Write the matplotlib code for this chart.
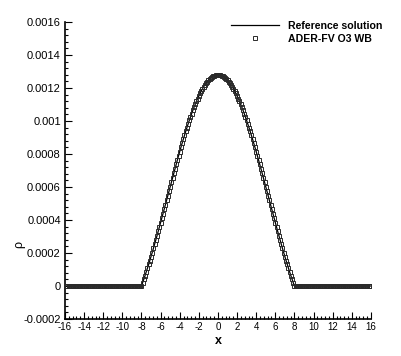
import matplotlib
matplotlib.use('Agg')
import matplotlib.pyplot as plt
import numpy as np
from matplotlib.ticker import MultipleLocator, FuncFormatter

plt.rcParams['font.family'] = ['Liberation Sans', 'DejaVu Sans']
plt.rcParams['axes.unicode_minus'] = False

# ---- data (density in units of 1e-4), grid spacing 0.125 on [-16, 16] ----
x_grid = np.linspace(-16.0, 16.0, 257)
rho_left_flat = [0.0] * 64          # x = -16 ... -8.125
rho_bump = [                         # x = -8 ... 8
    0.0, 0.203, 0.412, 0.627, 0.848, 1.074, 1.305, 1.541,
    1.782, 2.027, 2.276, 2.529, 2.786, 3.046, 3.308, 3.574,
    3.841, 4.111, 4.382, 4.654, 4.928, 5.201, 5.475, 5.749,
    6.023, 6.295, 6.567, 6.836, 7.104, 7.370, 7.633, 7.892,
    8.149, 8.402, 8.650, 8.894, 9.134, 9.368, 9.597, 9.821,
    10.038, 10.249, 10.453, 10.650, 10.841, 11.023, 11.198, 11.365,
    11.524, 11.674, 11.816, 11.949, 12.072, 12.187, 12.292, 12.388,
    12.473, 12.550, 12.616, 12.672, 12.718, 12.754, 12.779, 12.795,
    12.800,
    12.795, 12.779, 12.754, 12.718, 12.672, 12.616, 12.550, 12.473,
    12.388, 12.292, 12.187, 12.072, 11.949, 11.816, 11.674, 11.524,
    11.365, 11.198, 11.023, 10.841, 10.650, 10.453, 10.249, 10.038,
    9.821, 9.597, 9.368, 9.134, 8.894, 8.650, 8.402, 8.149,
    7.892, 7.633, 7.370, 7.104, 6.836, 6.567, 6.295, 6.023,
    5.749, 5.475, 5.201, 4.928, 4.654, 4.382, 4.111, 3.841,
    3.574, 3.308, 3.046, 2.786, 2.529, 2.276, 2.027, 1.782,
    1.541, 1.305, 1.074, 0.848, 0.627, 0.412, 0.203, 0.0,
]
rho_right_flat = [0.0] * 64         # x = 8.125 ... 16
rho_scale = 1e-4

series_labels = ['Reference solution', 'ADER-FV O3 WB']
x_label = 'x'
y_label = 'ρ'

rho = np.array(rho_left_flat + rho_bump + rho_right_flat) * rho_scale

fig = plt.figure(figsize=(4.01, 3.56), dpi=100)
ax = fig.add_axes([0.162, 0.104, 0.763, 0.834])

ax.plot(x_grid, rho, color='black', lw=0.9, label=series_labels[0], zorder=2)
ax.plot(x_grid, rho, ls='none', marker='s', ms=2.5, mfc='none', mec='#2a2a2a',
        mew=0.7, label=series_labels[1], zorder=3)

ax.set_xlim(-16, 16)
ax.set_ylim(-0.0002, 0.0016)
for s in ['top', 'right']:
    ax.spines[s].set_visible(False)
for s in ['left', 'bottom']:
    ax.spines[s].set_linewidth(1.2)

ax.xaxis.set_major_locator(MultipleLocator(2))
ax.xaxis.set_minor_locator(MultipleLocator(0.4))
ax.yaxis.set_major_locator(MultipleLocator(0.0002))
ax.yaxis.set_minor_locator(MultipleLocator(0.00004))
ax.yaxis.set_major_formatter(FuncFormatter(lambda v, p: '%g' % round(v, 7)))
ax.xaxis.set_major_formatter(FuncFormatter(lambda v, p: '%g' % round(v, 7)))

ax.tick_params(which='both', direction='in', top=False, right=False, width=0.8)
ax.tick_params(which='major', length=5)
ax.tick_params(which='minor', length=2.5)
ax.tick_params(axis='x', labelsize=7, pad=2)
ax.tick_params(axis='y', labelsize=8, pad=3)

ax.set_xlabel(x_label, fontsize=9, fontweight='bold')
ax.xaxis.set_label_coords(0.5, -0.055)
ax.set_ylabel(y_label, fontsize=9)
ax.yaxis.set_label_coords(-0.13, 0.25)

leg = ax.legend(loc='upper right', bbox_to_anchor=(382 / 401, 1 - 21 / 356),
                bbox_transform=fig.transFigure, frameon=False,
                prop={'size': 7.6, 'weight': 'bold'}, handlelength=4.6,
                handletextpad=0.8, labelspacing=0.3, borderpad=0,
                borderaxespad=0, numpoints=1)

fig.savefig('out.png', dpi=100)
